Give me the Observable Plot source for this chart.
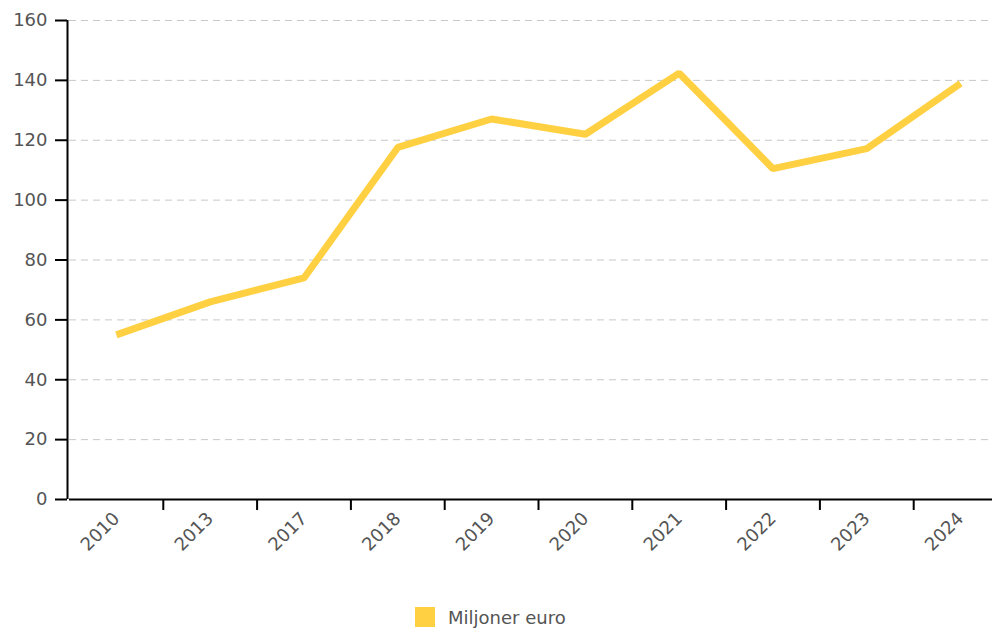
<!DOCTYPE html>
<html>
<head>
<meta charset="utf-8">
<script src="https://cdn.jsdelivr.net/npm/d3@7"></script>
<script src="https://cdn.jsdelivr.net/npm/@observablehq/plot@0.6"></script>
<style>
  html, body { margin: 0; padding: 0; background: #fff; overflow: hidden; }
  #chart { width: 992px; overflow: hidden; }
  #chart svg { max-width: none !important; }
  .legend { position: absolute; left: 415px; top: 607px; height: 20px; display: flex; align-items: center; font-family: "DejaVu Sans", sans-serif; font-size: 18px; color: #555; }
  .legend .sw { width: 20px; height: 20px; background: #FFD042; margin-right: 13px; }
</style>
</head>
<body>
<div id="chart"></div>
<div class="legend"><div class="sw"></div><span>Miljoner euro</span></div>
<script>
const years = ["2010","2013","2017","2018","2019","2020","2021","2022","2023","2024"];
const values = [55, 66, 74, 117.6, 127.1, 122, 142.4, 110.5, 117.2, 139];
const yTicks = [0, 20, 40, 60, 80, 100, 120, 140, 160];
const seriesName = "Miljoner euro";

const data = years.map((y, i) => ({i, year: y, value: values[i], series: seriesName}));
const idx = years.map((_, i) => i);
const boundaries = years.slice(1).map((_, i) => i + 0.5);

const chart = Plot.plot({
  width: 1007,
  height: 590,
  marginLeft: 69,
  marginRight: 0,
  marginTop: 20,
  marginBottom: 91,
  style: {fontFamily: "'DejaVu Sans', sans-serif", fontSize: "18px", color: "#555", background: "#fff", overflow: "visible", maxWidth: "none"},
  x: {domain: [-0.5, years.length - 0.5]},
  y: {domain: [0, 160]},
  marks: [
    Plot.gridY(yTicks.filter(d => d > 0), {stroke: "#c8c8c8", strokeOpacity: 1, strokeWidth: 1, strokeDasharray: "7,5"}),
    Plot.axisY(yTicks, {tickSize: 12, tickPadding: 8, stroke: "#000", strokeWidth: 2, fill: "#555", dx: -2, label: null}),
    Plot.ruleX([-0.5], {stroke: "#000", strokeWidth: 2, dx: -2}),
    Plot.ruleY([0], {stroke: "#000", strokeWidth: 2}),
    Plot.axisX(boundaries, {tickSize: 11, stroke: "#000", strokeWidth: 2, tickFormat: () => "", label: null}),
    Plot.axisX(idx, {tickSize: 0, tickPadding: 16, tickRotate: -45, tickFormat: i => years[i], fill: "#555", label: null}),
    Plot.line(data, {x: "i", y: "value", stroke: "#FFD042", strokeWidth: 7, strokeLinejoin: "miter", strokeLinecap: "butt"})
  ]
});
document.getElementById("chart").appendChild(chart);
</script>
</body>
</html>
